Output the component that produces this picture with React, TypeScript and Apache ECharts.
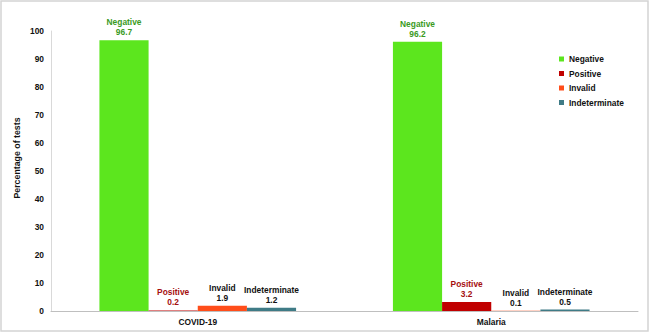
import React, { useEffect, useRef } from "react";
import * as echarts from "echarts";

const categories = ["COVID-19", "Malaria"];
const seriesNames = ["Negative", "Positive", "Invalid", "Indeterminate"];
const negative = [96.7, 96.2];
const positive = [0.2, 3.2];
const invalid = [1.9, 0.1];
const indeterminate = [1.2, 0.5];
const yAxisTitle = "Percentage of tests";

const barColors = ["#5ce61e", "#c00000", "#ff4d1a", "#3f7b86"];
const labelColors = ["#3a9a1e", "#a50f0f", "#111111", "#111111"];

export default function App() {
  const ref = useRef<HTMLDivElement>(null);
  useEffect(() => {
    if (!ref.current) return;
    const chart = echarts.init(ref.current, undefined, { renderer: "svg" });
    const values = [negative, positive, invalid, indeterminate];
    const font = "Liberation Sans, Arial, sans-serif";
    const fs = 8.4;
    chart.setOption({
      animation: false,
      textStyle: { fontFamily: font },
      graphic: [
        {
          type: "rect",
          shape: { x: 1, y: 1, width: 647, height: 330 },
          style: { fill: "none", stroke: "#d4d4d4", lineWidth: 1.5 },
          silent: true,
        },
        {
          type: "text",
          x: 17,
          y: 158,
          rotation: Math.PI / 2,
          style: {
            text: yAxisTitle,
            fill: "#111",
            font: `bold 8.8px ${font}`,
            align: "center",
            verticalAlign: "middle",
          },
          silent: true,
        },
      ],
      legend: {
        orient: "vertical",
        left: 559,
        top: 54,
        padding: 0,
        itemWidth: 5,
        itemHeight: 5,
        itemGap: 4.5,
        icon: "rect",
        data: seriesNames,
        textStyle: { fontWeight: "bold", fontSize: fs, lineHeight: 10, color: "#111", fontFamily: font },
      },
      grid: { left: 51, right: 12, top: 31, bottom: 22, containLabel: false },
      xAxis: {
        type: "category",
        data: categories,
        axisLine: { lineStyle: { color: "#bfbfbf" } },
        axisTick: { show: false },
        axisLabel: { fontWeight: "bold", fontSize: fs, color: "#111", margin: 7 },
      },
      yAxis: {
        type: "value",
        min: 0,
        max: 100,
        interval: 10,
        axisLine: { show: true, lineStyle: { color: "#d9d9d9" } },
        axisTick: { show: false },
        splitLine: { show: false },
        axisLabel: { fontWeight: "bold", fontSize: fs, color: "#111", margin: 7 },
      },
      series: seriesNames.map((name, i) => ({
        name,
        type: "bar",
        data: values[i],
        barGap: "0%",
        barCategoryGap: "33%",
        itemStyle: { color: barColors[i] },
        label: {
          show: true,
          position: "top",
          distance: 3,
          formatter: "{a}\n{c}",
          fontWeight: "bold",
          fontSize: fs,
          lineHeight: 10,
          color: labelColors[i],
          fontFamily: font,
        },
      })),
    });
    return () => chart.dispose();
  }, []);
  return (
    <div
      ref={ref}
      style={{ position: "fixed", left: 0, top: 0, width: 650, height: 333, background: "#fff" }}
    />
  );
}
